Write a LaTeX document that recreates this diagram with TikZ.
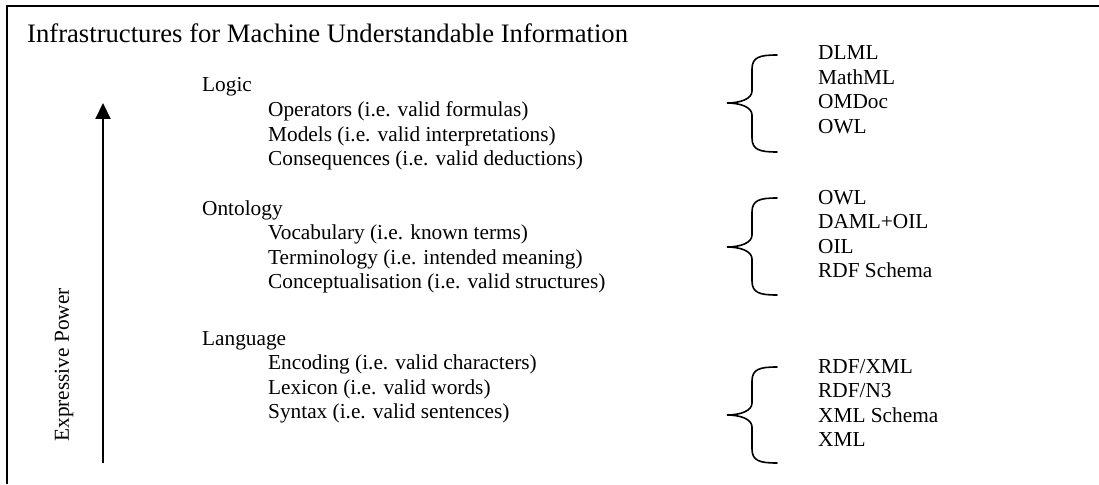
\documentclass[tikz,border=0pt]{standalone}
\usepackage{fontspec}
\setmainfont{Liberation Serif}
\usetikzlibrary{arrows.meta}
\begin{document}
\begin{tikzpicture}[x=1pt,y=-1pt,
  frameline/.style={line width=2pt},
  bodytext/.style={anchor=base west,inner sep=0pt,font=\fontsize{21.3}{24.5}\selectfont},
  titletext/.style={anchor=base west,inner sep=0pt,font=\fontsize{26.65}{30}\selectfont},
  bracecurve/.style={line width=1.6pt,line cap=round},
  powerarrow/.style={line width=2pt,-{Triangle[length=16pt,width=15pt]}}]
\useasboundingbox (0,0) rectangle (1099,484);
% open frame: left and top edges
\draw[frameline] (7,484) -- (7,6) -- (1099,6);
% title
\node[titletext] (title) at (27,43) {Infrastructures for Machine Understandable Information};
% expressive power axis
\coordinate (axisfoot) at (103,463);
\coordinate (axistop) at (103,103);
\draw[powerarrow] (axisfoot) -- (axistop);
\node[bodytext,anchor=center,rotate=90] (power) at (64,365) {Expressive Power};
% layers and their levels
\node[bodytext] (logic) at (202,92) {Logic};
\node[bodytext] (operators) at (268,116.5) {Operators (i.e. valid formulas)};
\node[bodytext] (models) at (268,141) {Models (i.e. valid interpretations)};
\node[bodytext] (consequences) at (268,165.5) {Consequences (i.e. valid deductions)};
\node[bodytext] (ontology) at (202,215) {Ontology};
\node[bodytext] (vocabulary) at (268,239.5) {Vocabulary (i.e. known terms)};
\node[bodytext] (terminology) at (268,264) {Terminology (i.e. intended meaning)};
\node[bodytext] (conceptualisation) at (268,288.5) {Conceptualisation (i.e. valid structures)};
\node[bodytext] (language) at (202,345) {Language};
\node[bodytext] (encoding) at (268,369.5) {Encoding (i.e. valid characters)};
\node[bodytext] (lexicon) at (268,394) {Lexicon (i.e. valid words)};
\node[bodytext] (syntax) at (268,418.5) {Syntax (i.e. valid sentences)};
% formats for each layer
\node[bodytext] (dlml) at (818,60) {DLML};
\node[bodytext] (mathml) at (818,84.5) {MathML};
\node[bodytext] (omdoc) at (818,109) {OMDoc};
\node[bodytext] (owlA) at (818,133.5) {OWL};
\node[bodytext] (owlB) at (818,204) {OWL};
\node[bodytext] (damloil) at (818,228.5) {DAML+OIL};
\node[bodytext] (oil) at (818,253) {OIL};
\node[bodytext] (rdfs) at (818,277.5) {RDF Schema};
\node[bodytext] (rdfxml) at (818,373) {RDF/XML};
\node[bodytext] (rdfnthree) at (818,397.5) {RDF/N3};
\node[bodytext] (xmlschema) at (818,422) {XML Schema};
\node[bodytext] (xml) at (818,446.5) {XML};
% curly braces (top end, tip, bottom end)
\foreach \t/\m/\b in {55/103/152, 198/247/295, 367/415/463}{
  \draw[bracecurve] (777,\t) .. controls (760,\t) and (752,\t+2) .. (752,\t+14)
    -- (752,\m-12) .. controls (752,\m-4) and (740,\m) .. (727,\m)
    .. controls (740,\m) and (752,\m+4) .. (752,\m+12)
    -- (752,\b-14) .. controls (752,\b-2) and (760,\b) .. (777,\b);
}
\end{tikzpicture}
\end{document}
